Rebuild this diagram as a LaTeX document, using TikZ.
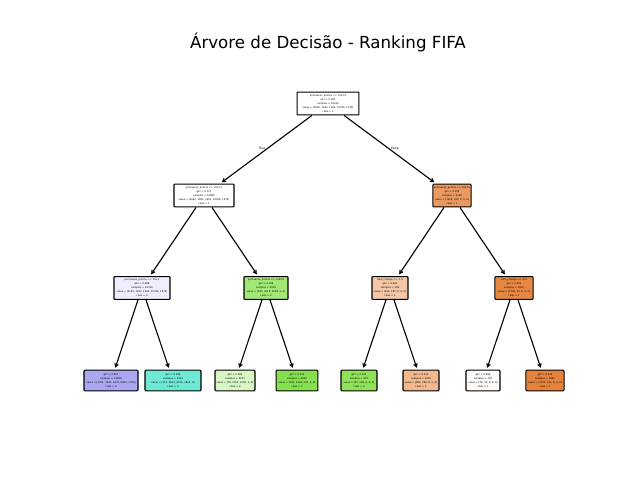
\documentclass[tikz,border=0pt]{standalone}
\usepackage{fontspec}
\setmainfont{DejaVu Sans}
\usetikzlibrary{arrows.meta}
\definecolor{cA}{HTML}{EA9A60}
\definecolor{cB}{HTML}{EFEEFD}
\definecolor{cC}{HTML}{A3E877}
\definecolor{cD}{HTML}{F4C8A7}
\definecolor{cE}{HTML}{E68743}
\definecolor{cF}{HTML}{ABA7F1}
\definecolor{cG}{HTML}{6FE8D4}
\definecolor{cH}{HTML}{D8F7C4}
\definecolor{cI}{HTML}{87E050}
\definecolor{cJ}{HTML}{8FE25A}
\definecolor{cK}{HTML}{F2B88E}
\definecolor{cL}{HTML}{FEFBF8}
\definecolor{cM}{HTML}{E5823B}
\tikzset{
  tnode/.style={draw=black, line width=0.75pt, rounded corners=0.6pt, align=center,
    inner sep=0.4pt, font=\fontsize{1.75}{2.85}\selectfont, minimum height=16.5pt},
  leaf/.style={tnode, minimum height=14.8pt},
  edge/.style={line width=0.8pt, -{Straight Barb[length=2.2pt, width=2.6pt]}, shorten >=1.5pt},
  elabel/.style={font=\fontsize{2.2}{3}\selectfont}
}
\begin{document}
\begin{tikzpicture}[x=0.72pt, y=-0.72pt]
\useasboundingbox (0,0) rectangle (640,480);
\node[font=\fontsize{12}{14}\selectfont] (title) at (328,43) {Árvore de Decisão - Ranking FIFA};

\node[tnode, fill=white, minimum width=44.6pt] (n0) at (328,103.5) {pontuacao\_pontos <= 1513.5\\gini = 0.781\\samples = 16234\\value = [2000, 1443, 1493, 10795, 1079]\\class = 1};

\node[tnode, fill=white, minimum width=43.2pt] (n1) at (204,195.5) {pontuacao\_pontos <= 1071.5\\gini = 0.727\\samples = 14085\\value = [2062, 1895, 3461, 10958, 1076]\\class = 1};
\node[tnode, fill=cA, minimum width=27.4pt] (n2) at (452,195.5) {pontuacao\_pontos <= 1633.5\\gini = 0.155\\samples = 2148\\value = [1969, 160, 0, 0, 0]\\class = 1};

\node[tnode, fill=cB, minimum width=40.3pt] (n3) at (142,288) {pontuacao\_pontos <= 755.5\\gini = 0.688\\samples = 10334\\value = [3233, 1913, 1960, 10796, 1079]\\class = 4};
\node[tnode, fill=cC, minimum width=31.7pt] (n4) at (266,288) {pontuacao\_pontos <= 1303.5\\gini = 0.199\\samples = 2030\\value = [185, 3018, 2028, 2, 0]\\class = 2};
\node[tnode, fill=cD, minimum width=25.9pt] (n5) at (390,288) {rank\_change <= -1.5\\gini = 0.403\\samples = 158\\value = [104, 265, 0, 0, 0]\\class = 1};
\node[tnode, fill=cE, minimum width=27.4pt] (n6) at (514,288) {rank\_change <= -0.5\\gini = 0.053\\samples = 1912\\value = [1795, 23, 0, 0, 0]\\class = 1};

\node[leaf, fill=cF, minimum width=38.9pt] (n7) at (111,380.5) {gini = 0.607\\samples = 10800\\value = [2351, 1281, 1075, 8851, 1079]\\class = 4};
\node[leaf, fill=cG, minimum width=40.3pt] (n8) at (173,380.5) {gini = 0.589\\samples = 1534\\value = [113, 4813, 6015, 1822, 0]\\class = 3};
\node[leaf, fill=cH, minimum width=28.8pt] (n9) at (235,380.5) {gini = 0.389\\samples = 4071\\value = [78, 2761, 1095, 2, 0]\\class = 2};
\node[leaf, fill=cI, minimum width=30.2pt] (n10) at (297,380.5) {gini = 0.152\\samples = 6929\\value = [183, 1344, 225, 0, 0]\\class = 2};
\node[leaf, fill=cJ, minimum width=25.9pt] (n11) at (359,380.5) {gini = 0.143\\samples = 257\\value = [20, 184, 0, 0, 0]\\class = 2};
\node[leaf, fill=cK, minimum width=25.9pt] (n12) at (421,380.5) {gini = 0.413\\samples = 1228\\value = [892, 380, 0, 0, 0]\\class = 1};
\node[leaf, fill=cL, minimum width=24.5pt] (n13) at (483,380.5) {gini = 0.498\\samples = 150\\value = [78, 72, 0, 0, 0]\\class = 1};
\node[leaf, fill=cM, minimum width=27.4pt] (n14) at (545,380.5) {gini = 0.036\\samples = 1862\\value = [1717, 141, 0, 0, 0]\\class = 1};

\draw[edge] (n0) -- (n1);
\draw[edge] (n0) -- (n2);
\draw[edge] (n1) -- (n3);
\draw[edge] (n1) -- (n4);
\draw[edge] (n2) -- (n5);
\draw[edge] (n2) -- (n6);
\draw[edge] (n3) -- (n7);
\draw[edge] (n3) -- (n8);
\draw[edge] (n4) -- (n9);
\draw[edge] (n4) -- (n10);
\draw[edge] (n5) -- (n11);
\draw[edge] (n5) -- (n12);
\draw[edge] (n6) -- (n13);
\draw[edge] (n6) -- (n14);

\node[elabel] (tl) at (262,148) {True};
\node[elabel] (fl) at (395,148) {False};
\end{tikzpicture}
\end{document}
